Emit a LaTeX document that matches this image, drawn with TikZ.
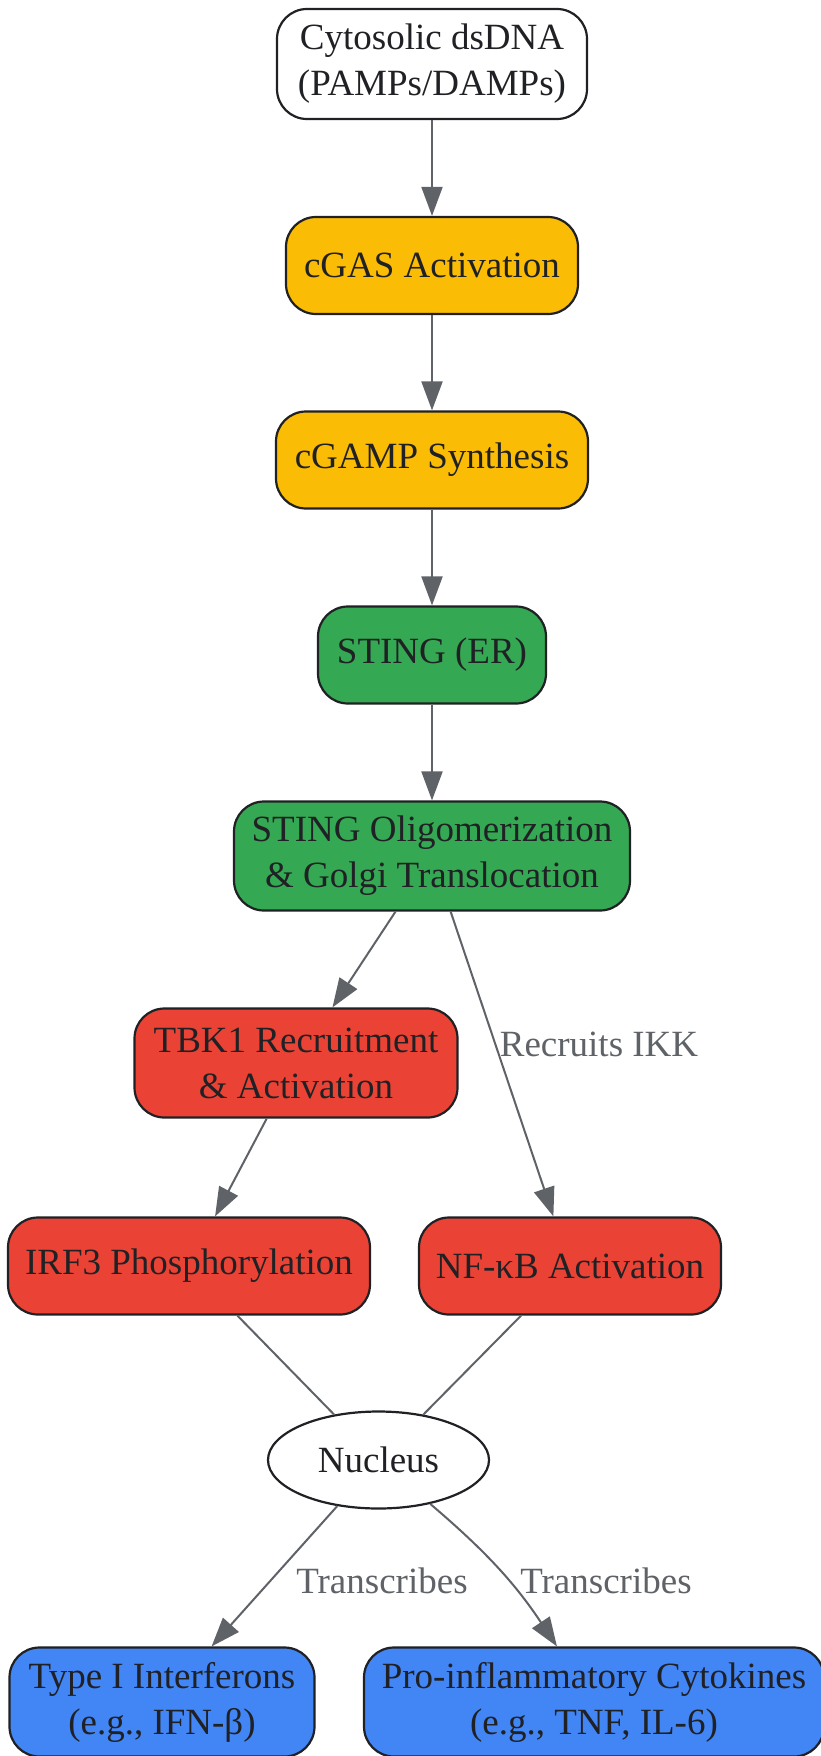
\documentclass[tikz,border=0pt]{standalone}
\usepackage{fontspec}
\setmainfont{Liberation Serif}
\usetikzlibrary{arrows.meta,shapes.geometric}
\definecolor{edgegrey}{HTML}{5F6368}
\definecolor{inkdark}{HTML}{202124}
\definecolor{gyellow}{HTML}{FBBC05}
\definecolor{ggreen}{HTML}{34A853}
\definecolor{gred}{HTML}{EA4335}
\definecolor{gblue}{HTML}{4285F4}
\tikzset{
  box/.style={draw=inkdark, line width=2.2pt, rounded corners=30pt, inner sep=0pt,
    align=center, text=inkdark, font=\fontsize{37}{46}\selectfont},
  oval/.style={draw=inkdark, line width=2.2pt, ellipse, inner sep=0pt, fill=white,
    align=center, text=inkdark, font=\fontsize{37}{46}\selectfont},
  conn/.style={draw=edgegrey, line width=2pt, -{Triangle[length=29pt,width=21pt]}},
  plainconn/.style={draw=edgegrey, line width=2pt},
  elabel/.style={text=edgegrey, inner sep=0pt, font=\fontsize{37}{46}\selectfont},
}
\begin{document}
\begin{tikzpicture}[x=1pt,y=-1pt]
\useasboundingbox[fill=white] (0,0) rectangle (820,1756);
\node[box, fill=white, minimum width=310, minimum height=110] (dna) at (432,64) {Cytosolic dsDNA\\(PAMPs/DAMPs)};
\node[box, fill=gyellow, minimum width=292, minimum height=97] (cgas) at (432,265.5) {cGAS Activation};
\node[box, fill=gyellow, minimum width=312, minimum height=97] (cgamp) at (432,460) {cGAMP Synthesis};
\node[box, fill=ggreen, minimum width=228, minimum height=97] (sting) at (432,655) {STING (ER)};
\node[box, fill=ggreen, minimum width=396, minimum height=109] (olig) at (432,856) {STING Oligomerization\\\& Golgi Translocation};
\node[box, fill=gred, minimum width=323, minimum height=109] (tbk) at (296,1063) {TBK1 Recruitment\\\& Activation};
\node[box, fill=gred, minimum width=362, minimum height=97] (irf) at (189,1266) {IRF3 Phosphorylation};
\node[box, fill=gred, minimum width=302, minimum height=97] (nfkb) at (570,1266) {NF-κB Activation};
\node[oval, minimum width=221, minimum height=97] (nuc) at (378.5,1460) {Nucleus};
\node[box, fill=gblue, minimum width=305, minimum height=109] (ifn) at (162,1702) {Type I Interferons\\(e.g., IFN-β)};
\node[box, fill=gblue, minimum width=460, minimum height=109] (cyto) at (594,1702) {Pro-inflammatory Cytokines\\(e.g., TNF, IL-6)};

\draw[conn] (dna) -- (cgas);
\draw[conn] (cgas) -- (cgamp);
\draw[conn] (cgamp) -- (sting);
\draw[conn] (sting) -- (olig);
\draw[conn] (olig) -- (tbk);
\draw[conn] (olig) -- (nfkb);
\draw[conn] (tbk) -- (irf);
\draw[plainconn] (irf) -- (nuc);
\draw[plainconn] (nfkb) -- (nuc);
\draw[conn] (nuc) -- (ifn);
\draw[conn] (nuc) to[bend left=8] (cyto);

\node[elabel] (lbikk) at (599,1044) {Recruits IKK};
\node[elabel] (lbtr1) at (382,1581) {Transcribes};
\node[elabel] (lbtr2) at (606,1581) {Transcribes};
\end{tikzpicture}
\end{document}
